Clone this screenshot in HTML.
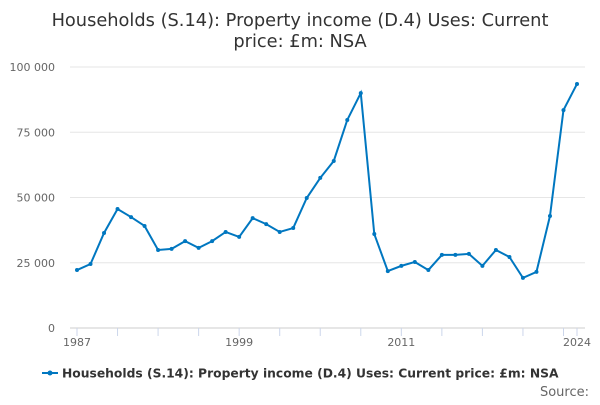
<!DOCTYPE html>
<html><head><meta charset="utf-8"><style>
body{margin:0;background:#fff;font-family:"Liberation Sans","DejaVu Sans",sans-serif}
</style></head><body>
<svg width="600" height="400" xmlns="http://www.w3.org/2000/svg" font-family="'DejaVu Sans','Liberation Sans',sans-serif">
<text x="300" y="26" text-anchor="middle" font-size="17.8" fill="#333">Households (S.14): Property income (D.4) Uses: Current</text>
<text x="300" y="47" text-anchor="middle" font-size="17.8" fill="#333">price: £m: NSA</text>
<g id="grid"></g>
<g id="xaxis"></g>
<g id="yaxis"></g>
<g id="plot"></g>
<g>
<line x1="42" y1="373" x2="58" y2="373" stroke="#0077c0" stroke-width="2"/>
<circle cx="50" cy="373" r="2.5" fill="#0077c0"/>
<text x="62" y="377.5" font-size="12.3" font-weight="bold" fill="#333">Households (S.14): Property income (D.4) Uses: Current price: £m: NSA</text>
</g>
<text x="589" y="396" text-anchor="end" font-size="13" fill="#666">Source:</text>
</svg>
<script>
const years=[1987,1988,1989,1990,1991,1992,1993,1994,1995,1996,1997,1998,1999,2000,2001,2002,2003,2004,2005,2006,2007,2008,2009,2010,2011,2012,2013,2014,2015,2016,2017,2018,2019,2020,2021,2022,2023,2024];
const values=[22200,24500,36400,45600,42500,39100,29900,30300,33300,30700,33300,36800,34900,42100,39800,36800,38300,49800,57500,64000,79700,90000,36000,21800,23800,25300,22200,28000,28000,28400,23800,29900,27200,19200,21500,42900,83500,93500];
const yTicks=[0,25000,50000,75000,100000];
const yTickLabels=["0","25 000","50 000","75 000","100 000"];
const xLabels=[1987,1999,2011,2024];
const NS="http://www.w3.org/2000/svg";
const x0=77,x1=577,yb=328,yt=67;
const xs=y=>x0+(y-1987)/(2024-1987)*(x1-x0);
const ys=v=>yb-v/100000*(yb-yt);
function mk(t,a,p){const e=document.createElementNS(NS,t);for(const k in a)e.setAttribute(k,a[k]);p.appendChild(e);return e;}
const grid=document.getElementById('grid'),ya=document.getElementById('yaxis'),xa=document.getElementById('xaxis'),plot=document.getElementById('plot');
yTicks.forEach((v,i)=>{
  const l=mk('line',{x1:70,x2:585,y1:ys(v),y2:ys(v),stroke:v===0?'#ccc':'#e6e6e6'},grid);
  
  
  const t=mk('text',{x:55,y:ys(v)+4,'text-anchor':'end','font-size':11,fill:'#666'},ya);
  t.textContent=yTickLabels[i];
  
  
});
years.forEach(y=>{
  if((y-1987)%3===0||y===2024){
    const l=mk('line',{x1:xs(y),x2:xs(y),y1:yb,y2:yb+8,stroke:'#ccd6eb'},xa);
    
    
  }
});
xLabels.forEach(y=>{
  const t=mk('text',{x:xs(y),y:346,'text-anchor':'middle','font-size':11,fill:'#666'},xa);
  t.textContent=y;
  
  
});
const path=mk('path',{d:values.map((v,i)=>(i?'L':'M')+xs(years[i])+','+ys(v)).join(''),fill:'none',stroke:'#0077c0','stroke-width':2},plot);


values.forEach((v,i)=>{
  const c=mk('circle',{cx:xs(years[i]),cy:ys(v),r:2,fill:'#0077c0'},plot);
  
  
});
</script>
</body></html>
